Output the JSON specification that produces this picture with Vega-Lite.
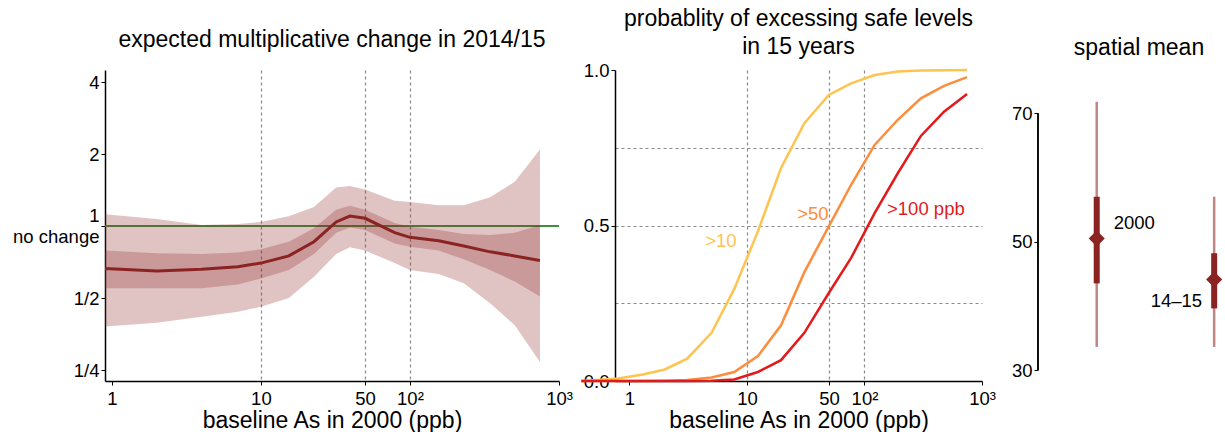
{
  "$schema": "https://vega.github.io/schema/vega-lite/v6.json",
  "padding": {"left": 12, "top": 8, "right": 0, "bottom": 0},
  "bounds": "flush",
  "spacing": 56,
  "config": {
    "font": "Liberation Sans",
    "view": {"stroke": null},
    "axis": {
      "labelFont": "Liberation Sans", "labelFontSize": 18.5, "labelColor": "black",
      "titleFont": "Liberation Sans", "titleFontSize": 23, "titleFontWeight": "normal", "titleColor": "black",
      "domainColor": "black", "domainWidth": 1.5, "tickColor": "black", "tickWidth": 1, "tickSize": 4,
      "labelPadding": 2, "gridColor": "#8a8a8a", "gridDash": [3, 3], "gridWidth": 1.2,
      "labelOverlap": false, "labelFlush": false, "labelBound": false
    },
    "axisX": {"labelPadding": 4, "titlePadding": 2},
    "title": {"font": "Liberation Sans", "fontSize": 23, "fontWeight": "normal", "color": "black", "lineHeight": 28}
  },
  "datasets": {
    "change": [
      {"x": 0.9, "lo95": 0.38, "lo50": 0.549, "mid": 0.665, "hi50": 0.79, "hi95": 1.12},
      {"x": 2, "lo95": 0.394, "lo50": 0.549, "mid": 0.648, "hi50": 0.769, "hi95": 1.07},
      {"x": 4, "lo95": 0.418, "lo50": 0.55, "mid": 0.659, "hi50": 0.764, "hi95": 1.01},
      {"x": 7, "lo95": 0.438, "lo50": 0.57, "mid": 0.676, "hi50": 0.776, "hi95": 1.02},
      {"x": 10, "lo95": 0.46, "lo50": 0.604, "mid": 0.7, "hi50": 0.8, "hi95": 1.04},
      {"x": 15.4, "lo95": 0.5, "lo50": 0.655, "mid": 0.75, "hi50": 0.86, "hi95": 1.1},
      {"x": 22.7, "lo95": 0.614, "lo50": 0.764, "mid": 0.86, "hi50": 0.978, "hi95": 1.2},
      {"x": 32, "lo95": 0.764, "lo50": 0.937, "mid": 1.04, "hi50": 1.17, "hi95": 1.45},
      {"x": 39.5, "lo95": 0.815, "lo50": 0.987, "mid": 1.1, "hi50": 1.216, "hi95": 1.47},
      {"x": 50, "lo95": 0.79, "lo50": 0.962, "mid": 1.077, "hi50": 1.17, "hi95": 1.42},
      {"x": 79, "lo95": 0.7, "lo50": 0.846, "mid": 0.938, "hi50": 1.03, "hi95": 1.275},
      {"x": 100, "lo95": 0.655, "lo50": 0.82, "mid": 0.897, "hi50": 0.994, "hi95": 1.26},
      {"x": 156, "lo95": 0.63, "lo50": 0.79, "mid": 0.868, "hi50": 0.962, "hi95": 1.22},
      {"x": 230, "lo95": 0.576, "lo50": 0.726, "mid": 0.825, "hi50": 0.926, "hi95": 1.22},
      {"x": 345, "lo95": 0.476, "lo50": 0.655, "mid": 0.78, "hi50": 0.917, "hi95": 1.32},
      {"x": 505, "lo95": 0.385, "lo50": 0.586, "mid": 0.75, "hi50": 0.937, "hi95": 1.53},
      {"x": 745, "lo95": 0.27, "lo50": 0.507, "mid": 0.717, "hi50": 1.01, "hi95": 2.09}
    ],
    "prob": [
      {"level": ">10", "x": 0.39, "p": 0}, {"level": ">10", "x": 0.8, "p": 0.008}, {"level": ">10", "x": 1.3, "p": 0.021},
      {"level": ">10", "x": 2.0, "p": 0.037}, {"level": ">10", "x": 3.1, "p": 0.072}, {"level": ">10", "x": 5.0, "p": 0.155},
      {"level": ">10", "x": 7.8, "p": 0.296}, {"level": ">10", "x": 12.4, "p": 0.481}, {"level": ">10", "x": 19.5, "p": 0.685},
      {"level": ">10", "x": 30.8, "p": 0.829}, {"level": ">10", "x": 49.7, "p": 0.92}, {"level": ">10", "x": 77, "p": 0.957},
      {"level": ">10", "x": 122, "p": 0.984}, {"level": ">10", "x": 192, "p": 0.995}, {"level": ">10", "x": 302, "p": 0.998},
      {"level": ">10", "x": 475, "p": 0.999}, {"level": ">10", "x": 746, "p": 1.0},
      {"level": ">50", "x": 0.39, "p": 0}, {"level": ">50", "x": 0.8, "p": 0}, {"level": ">50", "x": 1.3, "p": 0},
      {"level": ">50", "x": 2.0, "p": 0.001}, {"level": ">50", "x": 3.1, "p": 0.003}, {"level": ">50", "x": 5.0, "p": 0.011},
      {"level": ">50", "x": 7.8, "p": 0.029}, {"level": ">50", "x": 12.4, "p": 0.08}, {"level": ">50", "x": 19.5, "p": 0.179},
      {"level": ">50", "x": 30.8, "p": 0.35}, {"level": ">50", "x": 49.7, "p": 0.497}, {"level": ">50", "x": 77, "p": 0.631},
      {"level": ">50", "x": 122, "p": 0.759}, {"level": ">50", "x": 192, "p": 0.84}, {"level": ">50", "x": 302, "p": 0.909},
      {"level": ">50", "x": 475, "p": 0.949}, {"level": ">50", "x": 746, "p": 0.977},
      {"level": ">100 ppb", "x": 0.39, "p": 0}, {"level": ">100 ppb", "x": 0.8, "p": 0}, {"level": ">100 ppb", "x": 1.3, "p": 0},
      {"level": ">100 ppb", "x": 2.0, "p": 0}, {"level": ">100 ppb", "x": 3.1, "p": 0}, {"level": ">100 ppb", "x": 5.0, "p": 0.001},
      {"level": ">100 ppb", "x": 7.8, "p": 0.005}, {"level": ">100 ppb", "x": 12.4, "p": 0.029}, {"level": ">100 ppb", "x": 19.5, "p": 0.067},
      {"level": ">100 ppb", "x": 30.8, "p": 0.155}, {"level": ">100 ppb", "x": 49.7, "p": 0.283}, {"level": ">100 ppb", "x": 77, "p": 0.396},
      {"level": ">100 ppb", "x": 122, "p": 0.54}, {"level": ">100 ppb", "x": 192, "p": 0.668}, {"level": ">100 ppb", "x": 302, "p": 0.788},
      {"level": ">100 ppb", "x": 475, "p": 0.866}, {"level": ">100 ppb", "x": 746, "p": 0.923}
    ],
    "probLabels": [
      {"level": ">10", "x": 6.0, "p": 0.449},
      {"level": ">50", "x": 36.4, "p": 0.537},
      {"level": ">100 ppb", "x": 333, "p": 0.553}
    ],
    "spatial": [
      {"period": "2000", "x": 1, "mean": 50.5, "lo50": 43.5, "hi50": 57.0, "lo95": 33.6, "hi95": 71.8},
      {"period": "14–15", "x": 2, "mean": 44.1, "lo50": 39.6, "hi50": 48.2, "lo95": 33.6, "hi95": 57.0}
    ]
  },
  "hconcat": [
    {
      "width": 454, "height": 311,
      "title": {"text": "expected multiplicative change in 2014/15", "offset": 18},
      "data": {"name": "change"},
      "layer": [
        {
          "mark": {"type": "rule", "color": "#3f8f3f", "strokeWidth": 2},
          "encoding": {
            "y": {"datum": 1, "type": "quantitative", "title": null,
              "scale": {"type": "log", "base": 2, "domain": [0.225, 4.49], "nice": false},
              "axis": {"values": [0.25, 0.5, 1, 2, 4], "title": null, "labelLineHeight": 21,
                "labelOffset": {"condition": {"test": "datum.value == 1", "value": -10.5}, "value": 0},
                "labelExpr": "datum.value == 0.25 ? '1/4' : datum.value == 0.5 ? '1/2' : datum.value == 1 ? ['1', 'no change'] : format(datum.value, 'd')"}}
          }
        },
        {
          "mark": {"type": "area", "color": "#8B2323", "opacity": 0.27},
          "encoding": {
            "x": {"field": "x", "type": "quantitative", "title": "baseline As in 2000 (ppb)",
              "scale": {"type": "log", "domain": [0.9, 1000], "nice": false},
              "axis": {"values": [1, 10, 50, 100, 1000],
                "labelExpr": "datum.value == 100 ? '10²' : datum.value == 1000 ? '10³' : format(datum.value, 'd')",
                "gridOpacity": {"condition": {"test": "datum.value == 1 || datum.value == 1000", "value": 0}, "value": 1}}},
            "y": {"field": "lo95", "type": "quantitative", "title": null, "scale": {"type": "log", "base": 2, "domain": [0.225, 4.49], "nice": false}},
            "y2": {"field": "hi95"}
          }
        },
        {
          "mark": {"type": "area", "color": "#8B2323", "opacity": 0.26},
          "encoding": {
            "x": {"field": "x", "type": "quantitative", "title": "baseline As in 2000 (ppb)"},
            "y": {"field": "lo50", "type": "quantitative", "title": null},
            "y2": {"field": "hi50"}
          }
        },
        {
          "mark": {"type": "line", "color": "#8B2323", "strokeWidth": 3},
          "encoding": {
            "x": {"field": "x", "type": "quantitative", "title": "baseline As in 2000 (ppb)"},
            "y": {"field": "mid", "type": "quantitative", "title": null}
          }
        }
      ]
    },
    {
      "width": 367, "height": 311,
      "title": {"text": ["probablity of excessing safe levels", "in 15 years"], "offset": 2},
      "layer": [
        {
          "data": {"name": "prob"},
          "mark": {"type": "line", "strokeWidth": 2.5},
          "encoding": {
            "x": {"field": "x", "type": "quantitative", "title": "baseline As in 2000 (ppb)",
              "scale": {"type": "log", "domain": [0.754, 1000], "nice": false},
              "axis": {"values": [1, 10, 50, 100, 1000],
                "labelExpr": "datum.value == 100 ? '10²' : datum.value == 1000 ? '10³' : format(datum.value, 'd')",
                "gridOpacity": {"condition": {"test": "datum.value == 1 || datum.value == 1000", "value": 0}, "value": 1}}},
            "y": {"field": "p", "type": "quantitative", "title": null,
              "scale": {"domain": [0, 1], "nice": false},
              "axis": {"values": [0, 0.25, 0.5, 0.75, 1], "title": null,
                "labelExpr": "datum.value == 0.25 || datum.value == 0.75 ? '' : format(datum.value, '.1f')",
                "tickOpacity": {"condition": {"test": "datum.value == 0.25 || datum.value == 0.75", "value": 0}, "value": 1},
                "gridOpacity": {"condition": {"test": "datum.value == 0 || datum.value == 1", "value": 0}, "value": 1}}},
            "color": {"field": "level", "type": "nominal", "legend": null,
              "scale": {"domain": [">10", ">50", ">100 ppb"], "range": ["#FEC44F", "#FD8D3C", "#E31A1C"]}}
          }
        },
        {
          "data": {"name": "probLabels"},
          "mark": {"type": "text", "fontSize": 18.5, "align": "center", "baseline": "middle"},
          "encoding": {
            "x": {"field": "x", "type": "quantitative", "title": "baseline As in 2000 (ppb)"},
            "y": {"field": "p", "type": "quantitative", "title": null},
            "text": {"field": "level"},
            "color": {"field": "level", "type": "nominal", "legend": null}
          }
        }
      ]
    },
    {
      "width": 202, "height": 311,
      "title": {"text": "spatial mean", "offset": 10},
      "data": {"name": "spatial"},
      "layer": [
        {
          "mark": {"type": "rule", "color": "black", "strokeWidth": 1.5},
          "encoding": {
            "x": {"datum": 0.5, "type": "quantitative", "scale": {"domain": [0.5, 2.22], "nice": false, "zero": false}, "axis": null},
            "y": {"datum": 30, "type": "quantitative", "title": null,
              "scale": {"domain": [28.29, 76.75], "nice": false, "zero": false},
              "axis": {"values": [30, 40, 50, 60, 70], "title": null, "domain": false,
                "labelExpr": "datum.value == 40 || datum.value == 60 ? '' : format(datum.value, 'd')",
                "tickOpacity": {"condition": {"test": "datum.value == 40 || datum.value == 60", "value": 0}, "value": 1}}},
            "y2": {"datum": 70}
          }
        },
        {
          "mark": {"type": "rule", "color": "#8B2323", "opacity": 0.55, "strokeWidth": 2.5},
          "encoding": {
            "x": {"field": "x", "type": "quantitative", "axis": null},
            "y": {"field": "lo95", "type": "quantitative", "title": null},
            "y2": {"field": "hi95"}
          }
        },
        {
          "mark": {"type": "rule", "color": "#8B2323", "strokeWidth": 6},
          "encoding": {
            "x": {"field": "x", "type": "quantitative", "axis": null},
            "y": {"field": "lo50", "type": "quantitative", "title": null},
            "y2": {"field": "hi50"}
          }
        },
        {
          "mark": {"type": "point", "shape": "diamond", "filled": true, "color": "#8B2323", "size": 260, "opacity": 1},
          "encoding": {
            "x": {"field": "x", "type": "quantitative", "axis": null},
            "y": {"field": "mean", "type": "quantitative", "title": null}
          }
        },
        {
          "transform": [{"filter": "datum.period == '2000'"}],
          "mark": {"type": "text", "fontSize": 18.5, "align": "left", "baseline": "middle", "dx": 17, "dy": -15, "color": "black"},
          "encoding": {
            "x": {"field": "x", "type": "quantitative", "axis": null},
            "y": {"field": "mean", "type": "quantitative", "title": null},
            "text": {"field": "period"}
          }
        },
        {
          "transform": [{"filter": "datum.period != '2000'"}],
          "mark": {"type": "text", "fontSize": 18.5, "align": "right", "baseline": "middle", "dx": -12, "dy": 21, "color": "black"},
          "encoding": {
            "x": {"field": "x", "type": "quantitative", "axis": null},
            "y": {"field": "mean", "type": "quantitative", "title": null},
            "text": {"field": "period"}
          }
        }
      ]
    }
  ]
}
